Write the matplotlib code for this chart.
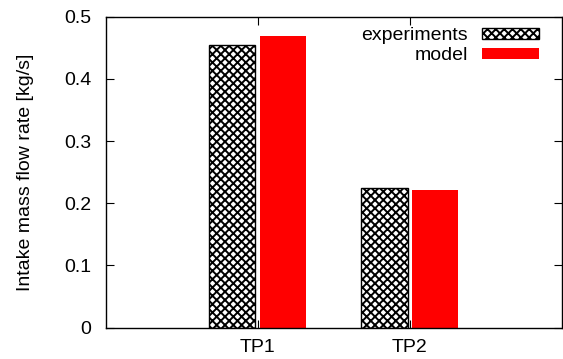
import numpy as np
import matplotlib.pyplot as plt

plt.rcParams['font.family'] = ['Liberation Sans', 'DejaVu Sans']
plt.rcParams['hatch.linewidth'] = 1.4

points = ["TP1", "TP2"]
experiments = [0.4545, 0.224]
model = [0.469, 0.2214]

fs = 14

fig = plt.figure(figsize=(5.63, 3.59), dpi=100)
ax = fig.add_axes([0.1874, 0.0872, 0.8106, 0.8663])

x = np.arange(1, len(points) + 1)
w = 0.305
ax.bar(x - 0.167, experiments, w, color='white', edgecolor='black',
       hatch='xxxx', linewidth=1.0, label='experiments')
ax.bar(x + 0.167, model, w, color='#ff0000', edgecolor='none', label='model')

ax.set_xlim(0, 3)
ax.set_ylim(0, 0.5)
ax.set_xticks(x)
ax.set_xticklabels(points)
ax.set_yticks([0, 0.1, 0.2, 0.3, 0.4, 0.5])
ax.set_yticklabels(['0', '0.1', '0.2', '0.3', '0.4', '0.5'])
ax.tick_params(direction='in', length=6, width=0.8, labelsize=fs,
               top=True, right=True)
ax.tick_params(axis='y', pad=10)
ax.tick_params(axis='x', pad=8)
for s in ax.spines.values():
    s.set_linewidth(1.0)

ax.set_ylabel('Intake mass flow rate [kg/s]', fontsize=fs, labelpad=22)

ax.legend(loc='upper right', bbox_to_anchor=(0.9496, 0.966), frameon=False,
          markerfirst=False, fontsize=fs, handlelength=2.94,
          handleheight=0.52, handletextpad=0.72, labelspacing=0.16,
          borderpad=0, borderaxespad=0)

fig.savefig('out.png', dpi=100)
